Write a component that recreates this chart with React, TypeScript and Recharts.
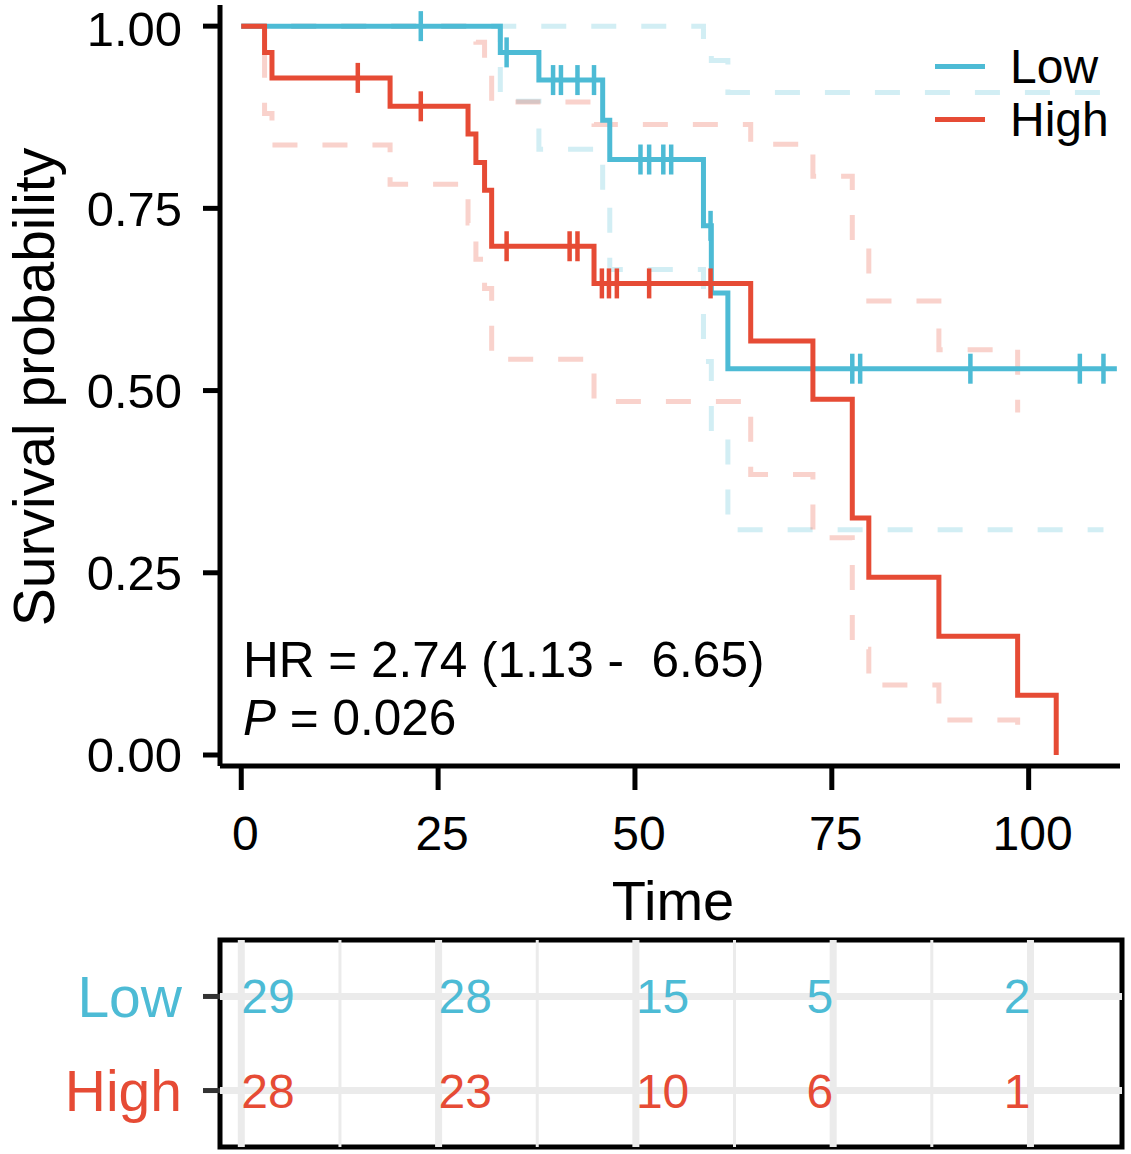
import React from 'react'
import { ComposedChart, Line, Scatter, XAxis, YAxis, Legend, ReferenceLine, ReferenceArea } from 'recharts'

// Kaplan-Meier curves (Low vs High)
const FONT = '"Liberation Sans", Arial, Helvetica, sans-serif'
const LOW_COLOR = '#4DBBD5'
const HIGH_COLOR = '#E64B35'

const lowTimes = [0, 32.9, 37.8, 45.9, 46.8, 58.7, 59.7, 61.8, 111.2]
const lowSurv = [1, 0.964, 0.926, 0.871, 0.817, 0.726, 0.634, 0.53, 0.53]
const lowCiTimes = [0, 32.9, 37.8, 45.9, 46.8, 58.7, 59.7, 61.8, 109.5]
const lowUpper = [1, 1, 1, 1, 1, 0.98, 0.953, 0.909, 0.909]
const lowLower = [1, 0.897, 0.831, 0.76, 0.666, 0.54, 0.435, 0.309, 0.309]
const lowCensor = [22.8, 33.7, 39.6, 40.6, 42.7, 44.8, 50.7, 51.8, 53.6, 54.6, 59.6, 77.6, 78.6, 92.6, 106.5, 109.5]

const highTimes = [0, 2.96, 3.9, 18.9, 28.8, 29.8, 30.9, 31.8, 44.8, 64.7, 72.6, 77.6, 79.7, 88.6, 98.6, 103.5]
const highSurv = [1, 0.964, 0.929, 0.89, 0.852, 0.813, 0.775, 0.698, 0.647, 0.568, 0.488, 0.325, 0.244, 0.163, 0.082, 0]
const highUpper = [1, 1, 1, 1, 0.995, 0.978, 0.945, 0.896, 0.865, 0.838, 0.794, 0.696, 0.623, 0.556, 0.47, null]
const highLower = [1, 0.88, 0.837, 0.783, 0.73, 0.68, 0.64, 0.543, 0.485, 0.385, 0.298, 0.145, 0.096, 0.048, 0.02, null]
const highCensor = [14.8, 22.8, 33.7, 41.7, 42.7, 45.8, 46.7, 47.7, 51.8, 59.6]

const xTicks = [0, 25, 50, 75, 100]
const xMinorTicks = [12.5, 37.5, 62.5, 87.5]
const yTicks = [0, 0.25, 0.5, 0.75, 1]
const X_DOMAIN = [-2.7, 111.6]

// number at risk table
const riskTimes = [0, 25, 50, 75, 100]
const lowAtRisk = [29, 28, 15, 5, 2]
const highAtRisk = [28, 23, 10, 6, 1]
const groups = ['High', 'Low']
const groupColors = [HIGH_COLOR, LOW_COLOR]

const steps = (times: number[], vals: (number | null)[]) => times.map((t, i) => ({ t, s: vals[i] }))

const survAt = (times: number[], vals: number[], t: number) => {
  let v = vals[0]
  times.forEach((tt, i) => {
    if (tt <= t) v = vals[i]
  })
  return v
}

const lowCurve = steps(lowTimes, lowSurv)
const lowUpperCurve = steps(lowCiTimes, lowUpper)
const lowLowerCurve = steps(lowCiTimes, lowLower)
const highCurve = steps(highTimes, highSurv)
const highUpperCurve = steps(highTimes, highUpper)
const highLowerCurve = steps(highTimes, highLower)
const lowMarks = lowCensor.map((t) => ({ t, s: survAt(lowTimes, lowSurv, t) }))
const highMarks = highCensor.map((t) => ({ t, s: survAt(highTimes, highSurv, t) }))

const lowRisk = riskTimes.map((t, i) => ({ t, row: 2, n: lowAtRisk[i] }))
const highRisk = riskTimes.map((t, i) => ({ t, row: 1, n: highAtRisk[i] }))

const censorShape = (color: string) => (props: any) => {
  const { cx, cy } = props
  return <line x1={cx} x2={cx} y1={cy - 15} y2={cy + 15} stroke={color} strokeWidth={4.5} />
}

const riskShape = (color: string) => (props: any) => {
  const { cx, cy, payload } = props
  const label = String(payload.n)
  return (
    <text
      x={cx}
      y={cy}
      dy="0.355em"
      textAnchor={label.length > 1 ? 'start' : 'end'}
      fontSize={48}
      fontFamily={FONT}
      fill={color}
    >
      {label}
    </text>
  )
}

function XTick({ x, y, payload }: any) {
  return (
    <text x={x + 4} y={y + 60} textAnchor="middle" fontSize={48} fontFamily={FONT} fill="#000">
      {payload.value}
    </text>
  )
}

function TimeTitle({ viewBox }: any) {
  return (
    <text x={viewBox.x + viewBox.width / 2 + 3} y={viewBox.y + 154} textAnchor="middle" fontSize={56} fontFamily={FONT} fill="#000">
      Time
    </text>
  )
}

function SurvTitle() {
  return (
    <text transform="translate(54,387) rotate(-90)" textAnchor="middle" fontSize={57} fontFamily={FONT} fill="#000">
      Survival probability
    </text>
  )
}

function RowTick({ x, y, payload }: any) {
  const idx = payload.value - 1
  return (
    <text x={x} y={y} dy="0.355em" textAnchor="end" fontSize={57} fontFamily={FONT} fill={groupColors[idx]}>
      {groups[idx]}
    </text>
  )
}

function KmLegend() {
  const items = [
    { label: 'Low', color: LOW_COLOR },
    { label: 'High', color: HIGH_COLOR },
  ]
  return (
    <div style={{ fontFamily: FONT, fontSize: 48, color: '#000' }}>
      {items.map((it) => (
        <div key={it.label} style={{ display: 'flex', alignItems: 'center', height: 53 }}>
          <span style={{ display: 'inline-block', width: 50, height: 5, background: it.color, marginLeft: 10, marginRight: 25 }} />
          <span style={{ lineHeight: '53px' }}>{it.label}</span>
        </div>
      ))}
    </div>
  )
}

const ciProps = { type: 'stepAfter' as const, dataKey: 's', dot: false, activeDot: false, strokeWidth: 5, strokeDasharray: '25 25', strokeOpacity: 0.25, isAnimationActive: false, legendType: 'none' as const }
const curveProps = { type: 'stepAfter' as const, dataKey: 's', dot: false, activeDot: false, strokeWidth: 5, isAnimationActive: false }

export default function App() {
  return (
    <div style={{ position: 'absolute', left: 0, top: 0, width: 1131, height: 1154, background: '#fff' }}>
      <div style={{ position: 'absolute', left: 0, top: 0 }}>
        <ComposedChart width={1131} height={940} margin={{ top: 5, right: 11, bottom: 0, left: 0 }}>
          <XAxis
            type="number"
            dataKey="t"
            domain={X_DOMAIN}
            allowDataOverflow
            ticks={xTicks}
            tick={<XTick />}
            tickSize={24}
            tickMargin={0}
            height={174}
            axisLine={{ stroke: '#000', strokeWidth: 5 }}
            tickLine={{ stroke: '#000', strokeWidth: 5 }}
            label={<TimeTitle />}
          />
          <YAxis
            type="number"
            dataKey="s"
            domain={[-0.0151, 1.029]}
            allowDataOverflow
            ticks={yTicks}
            tickFormatter={(v: number) => v.toFixed(2)}
            width={220}
            tickSize={17}
            tickMargin={21}
            tick={{ fontSize: 49, fill: '#000', fontFamily: FONT }}
            axisLine={{ stroke: '#000', strokeWidth: 5 }}
            tickLine={{ stroke: '#000', strokeWidth: 5 }}
            label={<SurvTitle />}
          />
          <Line {...ciProps} data={lowUpperCurve} stroke={LOW_COLOR} />
          <Line {...ciProps} data={lowLowerCurve} stroke={LOW_COLOR} />
          <Line {...ciProps} data={highUpperCurve} stroke={HIGH_COLOR} />
          <Line {...ciProps} data={highLowerCurve} stroke={HIGH_COLOR} />
          <Line {...curveProps} data={lowCurve} stroke={LOW_COLOR} name="Low" />
          <Scatter data={lowMarks} dataKey="s" shape={censorShape(LOW_COLOR)} isAnimationActive={false} />
          <Line {...curveProps} data={highCurve} stroke={HIGH_COLOR} name="High" />
          <Scatter data={highMarks} dataKey="s" shape={censorShape(HIGH_COLOR)} isAnimationActive={false} />
          <Legend
            content={<KmLegend />}
            layout="horizontal"
            verticalAlign="middle"
            align="center"
            wrapperStyle={{ left: 925, top: 40, width: 206 }}
          />
        </ComposedChart>
        <svg width={1131} height={930} style={{ position: 'absolute', left: 0, top: 0, pointerEvents: 'none' }}>
          <text x={243} y={677} fontSize={49.5} fontFamily={FONT} fill="#000" style={{ whiteSpace: 'pre' }}>
            HR = 2.74 (1.13 -  6.65)
          </text>
          <text x={243} y={735} fontSize={49.5} fontFamily={FONT} fill="#000">
            <tspan fontStyle="italic">P</tspan> = 0.026
          </text>
        </svg>
      </div>
      <div style={{ position: 'absolute', left: 0, top: 934 }}>
        <ComposedChart width={1131} height={220} margin={{ top: 6, right: 9, bottom: 7, left: 0 }}>
          <XAxis type="number" dataKey="t" domain={X_DOMAIN} allowDataOverflow hide />
          <YAxis
            type="number"
            dataKey="row"
            domain={[0.4, 2.6]}
            allowDataOverflow
            ticks={[1, 2]}
            width={220}
            tickSize={17}
            tickMargin={21}
            tick={<RowTick />}
            axisLine={false}
            tickLine={{ stroke: '#333', strokeWidth: 5 }}
          />
          {xMinorTicks.map((t) => (
            <ReferenceLine key={'m' + t} x={t} stroke="#EBEBEB" strokeWidth={3} />
          ))}
          {xTicks.map((t) => (
            <ReferenceLine key={'M' + t} x={t} stroke="#EBEBEB" strokeWidth={7} />
          ))}
          {[1, 2].map((r) => (
            <ReferenceLine key={'r' + r} y={r} stroke="#EBEBEB" strokeWidth={7} />
          ))}
          <ReferenceArea x1={X_DOMAIN[0]} x2={X_DOMAIN[1]} y1={0.4} y2={2.6} fill="none" fillOpacity={0} stroke="#000" strokeWidth={5} ifOverflow="visible" />
          <Scatter data={lowRisk} dataKey="row" shape={riskShape(LOW_COLOR)} isAnimationActive={false} />
          <Scatter data={highRisk} dataKey="row" shape={riskShape(HIGH_COLOR)} isAnimationActive={false} />
        </ComposedChart>
      </div>
    </div>
  )
}
